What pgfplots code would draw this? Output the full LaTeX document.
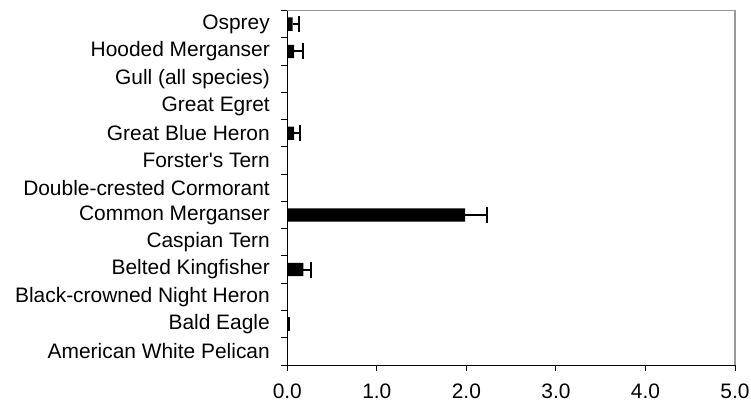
\documentclass[border=0pt]{standalone}
\usepackage{fontspec}
\setmainfont{Liberation Sans}
\usepackage{pgfplots}
\pgfplotsset{compat=1.18}
\begin{document}
\begin{tikzpicture}
\begin{axis}[
  at={(0,0)}, anchor=south west,
  scale only axis,
  width=447.7bp, height=354.5bp,
  xbar, bar width=13.3bp, bar shift=0pt,
  xmin=0, xmax=5, ymin=-0.5, ymax=12.5,
  axis lines=left,
  axis line style={black, line width=0.9bp, -},
  xtick={0,1,2,3,4,5},
  xticklabel style={/pgf/number format/fixed, /pgf/number format/fixed zerofill, /pgf/number format/precision=1, yshift=-15bp},
  /pgf/number format/assume math mode=true,
  ytick={0,...,12},
  yticklabels={American White Pelican, Bald Eagle, Black-crowned Night Heron, Belted Kingfisher, Caspian Tern, Common Merganser, Double-crested Cormorant, Forster\textquotesingle s Tern, Great Blue Heron, Great Egret, Gull (all species), Hooded Merganser, Osprey},
  minor ytick={-0.5,0.5,...,12.5},
  major tick length=0pt,
  minor tick length=6bp,
  tick align=outside,
  every minor tick/.style={black, line width=0.9bp},
  extra x ticks={0,1,2,3,4,5},
  extra x tick labels={},
  extra x tick style={major tick length=6bp, every major tick/.style={black,line width=0.9bp}},
  tick label style={font=\fontsize{21}{24}\selectfont, black},
  yticklabel style={xshift=-14bp},
  clip=false,
]
\addplot[fill=black, draw=none,
  error bars/.cd, x dir=plus, x explicit,
  error bar style={black, line width=2bp},
  error mark options={black, line width=2bp, mark size=8bp, rotate=90}]
coordinates {
 (0.18,3) +- (0.09,0)
 (1.985,5) +- (0.245,0)
 (0.075,8) +- (0.065,0)
 (0.075,11) +- (0.095,0)
 (0.06,12) +- (0.07,0)
};
\addplot[fill=black, draw=none] coordinates {(0.035,1)};
\draw[gray!80, line width=1.3bp] (rel axis cs:0,1) -- (rel axis cs:1,1) -- (rel axis cs:1,0);
\end{axis}
\pgfresetboundingbox
\path[use as bounding box] (-287.3bp,-42bp) rectangle (463.7bp,365bp);
\end{tikzpicture}
\end{document}
